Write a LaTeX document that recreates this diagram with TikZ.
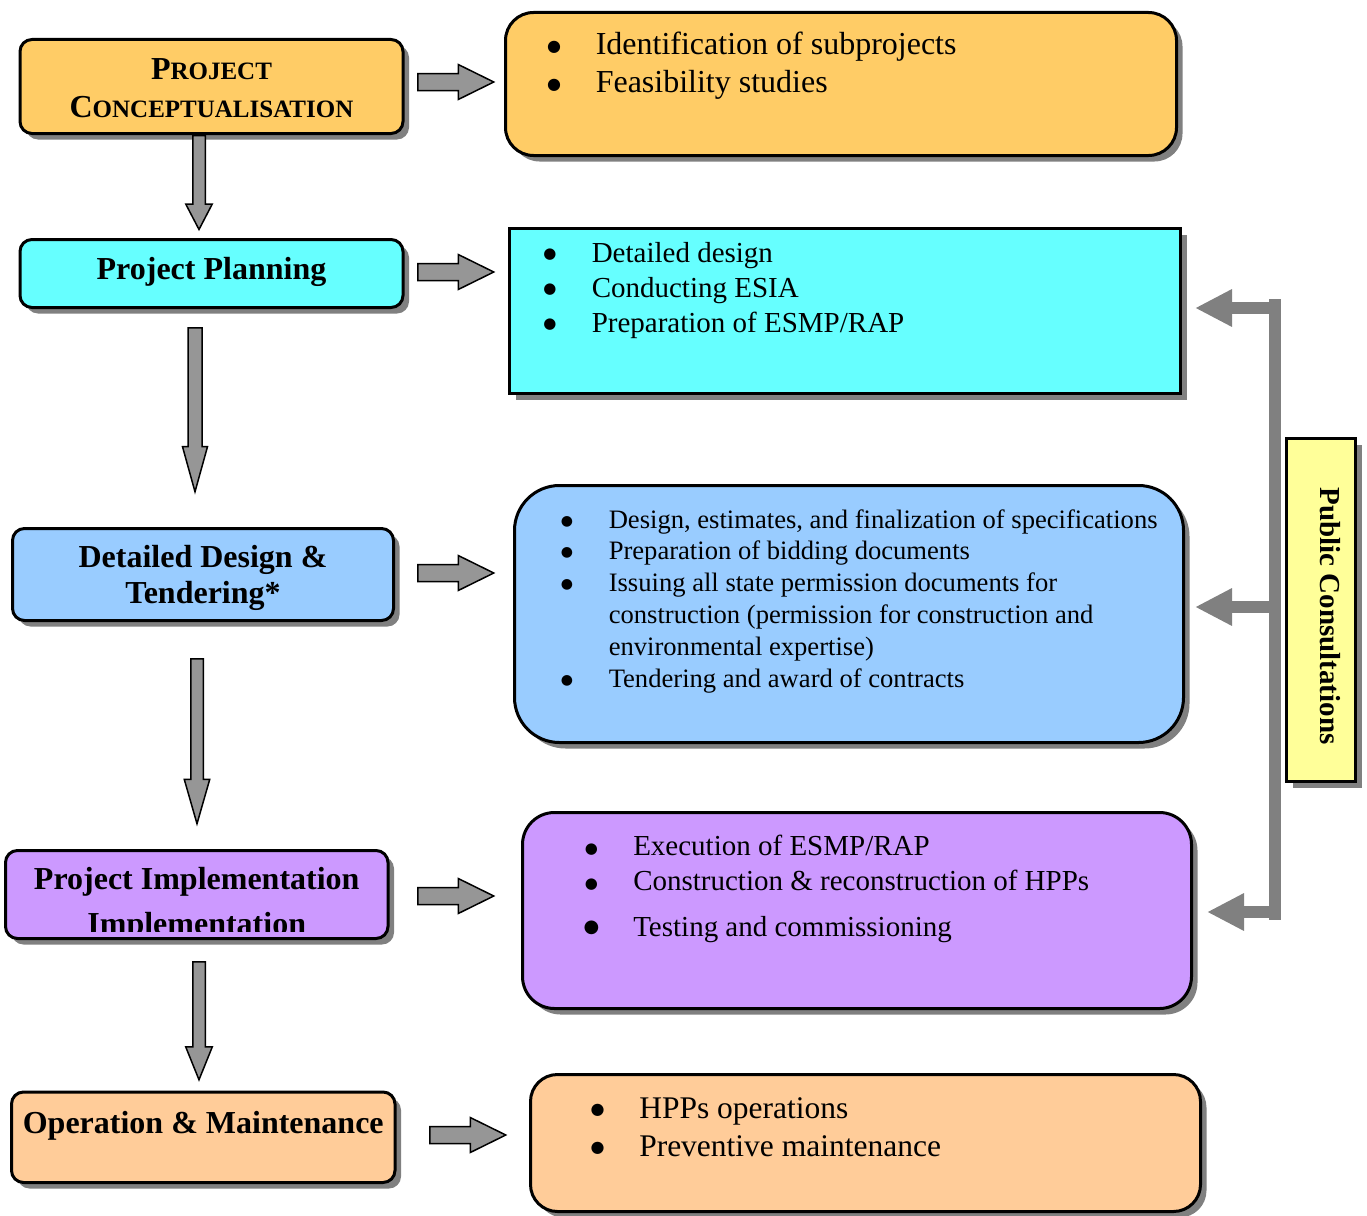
\documentclass[tikz,border=0pt]{standalone}
\usepackage{fontspec}
\setmainfont{Liberation Serif}
\newfontfamily\bulfont{DejaVu Sans}
\usetikzlibrary{shapes.arrows,shadows,arrows.meta,calc}
\definecolor{corange}{RGB}{255,204,102}
\definecolor{ccyan}{RGB}{102,255,255}
\definecolor{cblue}{RGB}{153,204,255}
\definecolor{cpurple}{RGB}{204,153,255}
\definecolor{cpeach}{RGB}{255,204,153}
\definecolor{cyellow}{RGB}{255,255,153}
\definecolor{shd}{RGB}{128,128,128}
\definecolor{arrfill}{RGB}{150,150,150}
\definecolor{pcgray}{RGB}{128,128,128}
\newcommand\fs[2]{\fontsize{#1}{#2}\selectfont}
% bullet: size (pt), raise (pt)
\newcommand\setbul[2]{\def\bulsize{#1}\def\bulraise{#2}}
\newcommand\bigdot{\raisebox{\bulraise pt}{\bulfont\fontsize{\bulsize}{\bulsize}\selectfont ●}}
\newcommand\bul[1]{\hbox{\makebox[16pt][c]{\bigdot}\hspace{33.75pt}#1}}
\newcommand\cont[1]{\hbox{\hspace*{49.75pt}#1}}
\newcommand\ctr[1]{\vtop{\halign{\hfil##\hfil\cr#1\crcr}}}
\begin{document}
\begin{tikzpicture}[x=1pt,y=-1pt,
  shadowed/.style={drop shadow={shadow xshift=6pt,shadow yshift=-6pt,opacity=1,fill=shd}},
  box/.style={draw=black,line width=3pt,inner sep=0pt,outer sep=0pt,anchor=north west,shadowed},
  lbox/.style={box,rounded corners=12pt},
  txt/.style={anchor=base west,inner sep=0pt,outer sep=0pt},
  ttl/.style={anchor=base,inner sep=0pt,outer sep=0pt,font=\bfseries},
  barrow/.style={single arrow,draw=black,fill=arrfill,line width=1.5pt,inner xsep=0pt,minimum width=0pt,outer sep=0pt,anchor=tail},
  harrow/.style={barrow,inner ysep=7.75pt,single arrow head extend=9pt,single arrow tip angle=52.5,minimum height=76pt},
  pcarrow/.style={draw=pcgray,line width=12pt,-{Triangle[length=37pt,width=35pt]}},
]
\useasboundingbox (0,0) rectangle (1367,1215);

% left boxes
\node[lbox,fill=corange,minimum width=383pt,minimum height=94pt] (c1) at (20,39.5) {};
\node[lbox,fill=ccyan,minimum width=383pt,minimum height=68pt] (c2) at (20,239.5) {};
\node[lbox,fill=cblue,minimum width=381pt,minimum height=92pt] (c3) at (12.5,528.5) {};
\node[lbox,fill=cpurple,minimum width=382.5pt,minimum height=88pt] (c4) at (5.5,850.5) {};
\node[lbox,fill=cpeach,minimum width=383.5pt,minimum height=90.5pt] (c5) at (11.5,1092) {};

% right boxes
\node[box,fill=corange,rounded corners=28pt,minimum width=671pt,minimum height=143pt] (r1) at (505.5,12.5) {};
\node[box,fill=ccyan,minimum width=671pt,minimum height=165pt] (r2) at (509.5,228.5) {};
\node[box,fill=cblue,rounded corners=45pt,minimum width=669pt,minimum height=257pt] (r3) at (514.5,485.5) {};
\node[box,fill=cpurple,rounded corners=32pt,minimum width=669pt,minimum height=196pt] (r4) at (522.5,812.5) {};
\node[box,fill=cpeach,rounded corners=27pt,minimum width=670pt,minimum height=137pt] (r5) at (530.5,1074.5) {};

% public consultations box
\node[box,fill=cyellow,minimum width=69pt,minimum height=343pt] (pc) at (1286.5,438.5) {};
\node[ttl,rotate=-90] (pct) at (1320,616) {\fs{29}{34}Public Consultations};

% left titles
\node[ttl] (l1) at (211.5,79) {\fs{32}{38}\ctr{P{\fs{25}{38}ROJECT}\cr C{\fs{25}{38}ONCEPTUALISATION}}};
\node[ttl] (l2) at (211.5,279) {\fs{32}{38}Project Planning};
\node[ttl] (l3) at (203,567.5) {\fs{32}{36}\ctr{Detailed Design \&\cr Tendering*}};
\begin{scope}
\clip (c4.north west) rectangle ($(c4.south east)+(0,-7.5)$);
\node[ttl] (l4) at (196.75,889) {\fs{32}{45}\ctr{Project Implementation\cr Implementation}};
\end{scope}
\node[ttl] (l5) at (203.25,1133) {\fs{32}{38}Operation \& Maintenance};

% right texts
\node[txt] (t1) at (546,55) {\setbul{16}{3}\fs{32}{38}\vtop{\bul{Identification of subprojects}\bul{Feasibility studies}}};
\node[txt] (t2) at (542,262) {\setbul{15}{3.5}\fs{29}{35}\vtop{\bul{Detailed design}\bul{Conducting ESIA}\bul{Preparation of ESMP/RAP}}};
\node[txt] (t3) at (559,528) {\setbul{14}{3}\fs{26.6}{31.8}\vtop{\bul{Design, estimates, and finalization of specifications}\bul{Preparation of bidding documents}\bul{Issuing all state permission documents for}\cont{construction (permission for construction and}\cont{environmental expertise)}\bul{Tendering and award of contracts}}};
\node[txt] (t4) at (583.5,855) {\setbul{15}{2}\fs{29}{35}\vtop{\bul{Execution of ESMP/RAP}\bul{Construction \& reconstruction of HPPs}\vskip11pt\setbul{18}{3.5}\bul{Testing and commissioning}}};
\node[txt] (t5) at (589.5,1118) {\setbul{16}{4}\fs{31.5}{38}\vtop{\bul{HPPs operations}\bul{Preventive maintenance}}};

% horizontal block arrows
\node[harrow] (a1) at (417.75,82) {};
\node[harrow] (a2) at (417.75,272) {};
\node[harrow] (a3) at (417.75,573) {};
\node[harrow] (a4) at (417.75,896) {};
\node[harrow] (a5) at (429.75,1135) {};

% vertical block arrows
\node[barrow,rotate=-90,inner ysep=5.5pt,single arrow head extend=7pt,single arrow tip angle=55,minimum height=94pt] (d1) at (199,135.5) {};
\node[barrow,rotate=-90,inner ysep=6.25pt,single arrow head extend=5.5pt,single arrow tip angle=31,minimum height=164pt] (d2) at (195,327.75) {};
\node[barrow,rotate=-90,inner ysep=5.5pt,single arrow head extend=6.5pt,single arrow tip angle=32,minimum height=165pt] (d3) at (197,658.75) {};
\node[barrow,rotate=-90,inner ysep=5.5pt,single arrow head extend=7pt,single arrow tip angle=44,minimum height=118pt] (d4) at (199,961.75) {};

% public consultation connectors
\coordinate (bt) at (1275,299);
\coordinate (bb) at (1275,920);
\coordinate (p1) at (1269,308);
\coordinate (p2) at (1269,607);
\coordinate (p3) at (1269,912);
\draw[pcgray,line width=12pt] (bt) -- (bb);
\draw[pcarrow,shorten >=14.5pt] (p1) -- (p1 -| r2.east);
\draw[pcarrow,shorten >=11.5pt] (p2) -- (p2 -| r3.east);
\draw[pcarrow,shorten >=15.5pt] (p3) -- (p3 -| r4.east);
\end{tikzpicture}
\end{document}
